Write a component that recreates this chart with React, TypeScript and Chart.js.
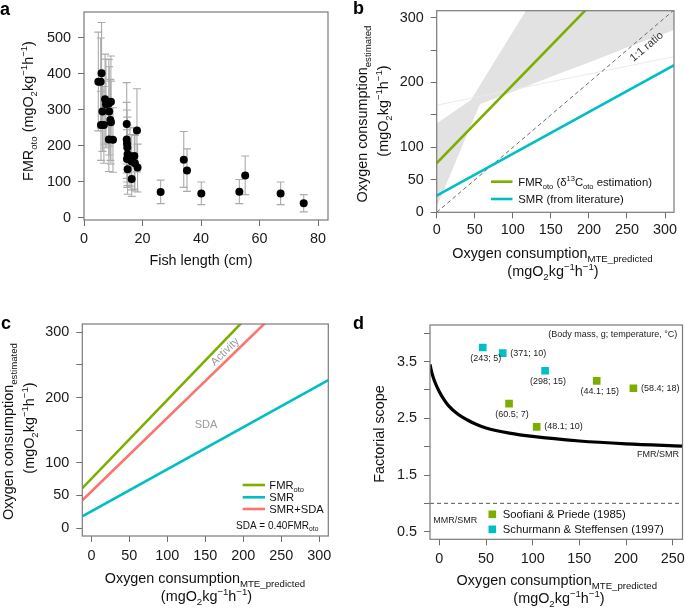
import React, { useEffect, useRef } from 'react';
import { Chart, registerables } from 'chart.js';

Chart.register(...registerables);

const FONT = "'Liberation Sans', Arial, Helvetica, sans-serif";
const GREEN = '#7CAE00';
const CYAN = '#00BFC4';
const RED = '#F8766D';

// ---------- Panel a : FMR vs fish length ----------
const fishLength = [4.9, 5.7, 6.0, 5.8, 6.8, 6.3, 7.2, 7.5, 8.5, 9.2, 8.6, 9.0, 9.2, 8.5, 9.9, 14.6, 14.6, 14.7, 14.8, 18.1, 14.9, 15.7, 17.2, 14.7, 16.3, 17.4, 18.3, 14.9, 16.3, 26.2, 34.1, 35.2, 40.1, 53.1, 55.1, 67.2, 75.1];
const fmrOto = [378, 378, 402, 258, 258, 296, 330, 316, 318, 323, 296, 272, 266, 218, 217, 261, 218, 207, 196, 243, 177, 172, 172, 164, 157, 152, 140, 135, 108, 72, 162, 132, 68, 73, 118, 68, 41];
const fmrLow = [242, 250, 262, 160, 152, 185, 205, 195, 200, 210, 175, 160, 150, 129, 127, 150, 125, 110, 100, 128, 90, 88, 80, 85, 78, 75, 72, 66, 60, 40, 85, 74, 37, 40, 65, 37, 17];
const fmrHigh = [516, 500, 543, 352, 365, 410, 455, 441, 440, 450, 420, 385, 380, 305, 306, 376, 321, 300, 280, 359, 258, 252, 250, 245, 232, 229, 205, 205, 172, 105, 240, 192, 100, 107, 172, 100, 65];
const aXTicks = [0, 20, 40, 60, 80];
const aYTicks = [0, 100, 200, 300, 400, 500];

// ---------- Panel b : estimated vs predicted ----------
const bandX = [0, 20, 45, 57, 80, 118, 150, 200, 250, 312];
const bandUpper = [137, 153, 173, 196, 240, 312, 312, 312, 312, 312];
const bandLower = [8, 64, 134, 167, 177, 194, 209, 231, 254, 281];
const faintX = [0, 312];
const faintY = [165, 240];
const bLineX = [0, 312];
const bFmrY = [75.7, 452];
const bSmrY = [25.8, 226.7];
const oneToOne = [0, 312];
const bTicks = [0, 50, 100, 150, 200, 250, 300];
const bYLabeled = [0, 50, 100, 200, 300];

// ---------- Panel c : energy partition ----------
const cLineX = [-12, 312];
const cFmrY = [61.2, 452.3];
const cSmrY = [18.1, 226.7];
const cSdaY = [42.6, 408];
const cTicks = [0, 50, 100, 150, 200, 250, 300];
const cYLabeled = [0, 50, 100, 200, 300];

// ---------- Panel d : factorial scope ----------
const ratioX = [-10, -8, -5, 0, 5, 10, 20, 30, 40, 50, 75, 100, 150, 200, 260];
const ratioY = [3.45, 3.3, 3.15, 2.97, 2.83, 2.72, 2.57, 2.47, 2.39, 2.33, 2.24, 2.18, 2.1, 2.05, 2.01];
const mmrLineX = [-10, 260];
const mmrLineY = [1, 1];
const soofX = [74.7, 104.3, 168.6, 207.9];
const soofY = [2.76, 2.35, 3.16, 3.03];
const soofLabels = ['(60.5; 7)', '(48.1; 10)', '(44.1; 15)', '(58.4; 18)'];
const soofPlace = ['below', 'right', 'below', 'right'];
const schuX = [46.5, 67.9, 113.3];
const schuY = [3.75, 3.65, 3.34];
const schuLabels = ['(243; 5)', '(371; 10)', '(298; 15)'];
const schuPlace = ['below', 'right', 'below'];
const dXTicks = [0, 50, 100, 150, 200, 250];
const dYTicks = [0.5, 1, 1.5, 2, 2.5, 3, 3.5, 4];
const dYLabeled = [0.5, 1.5, 2.5, 3.5];

// ---------- rich text helpers ----------
type Seg = { t: string; s?: 'sub' | 'sup' };

function segFont(size: number, s: Seg, weight = '') {
  const fs = s.s ? size * 0.67 : size;
  return `${weight} ${fs}px ${FONT}`;
}
function richWidth(ctx: CanvasRenderingContext2D, segs: Seg[], size: number) {
  let w = 0;
  for (const s of segs) {
    ctx.font = segFont(size, s);
    w += ctx.measureText(s.t).width;
  }
  return w;
}
function rich(ctx: CanvasRenderingContext2D, segs: Seg[], x: number, y: number, size: number, align: 'left' | 'center' | 'right' = 'left', angle = 0, color = '#111') {
  ctx.save();
  ctx.translate(x, y);
  ctx.rotate(angle);
  ctx.fillStyle = color;
  ctx.textBaseline = 'alphabetic';
  ctx.textAlign = 'left';
  const w = richWidth(ctx, segs, size);
  let cx = align === 'center' ? -w / 2 : align === 'right' ? -w : 0;
  for (const s of segs) {
    ctx.font = segFont(size, s);
    const dy = s.s === 'sub' ? size * 0.28 : s.s === 'sup' ? -size * 0.42 : 0;
    ctx.fillText(s.t, cx, dy);
    cx += ctx.measureText(s.t).width;
  }
  ctx.restore();
}
function letter(ctx: CanvasRenderingContext2D, t: string, x: number, y: number) {
  ctx.save();
  ctx.font = `bold 18px ${FONT}`;
  ctx.fillStyle = '#000';
  ctx.textAlign = 'left';
  ctx.textBaseline = 'alphabetic';
  ctx.fillText(t, x, y);
  ctx.restore();
}

const unitSegs: Seg[] = [{ t: '(mgO' }, { t: '2', s: 'sub' }, { t: 'kg' }, { t: '−1', s: 'sup' }, { t: 'h' }, { t: '−1', s: 'sup' }, { t: ')' }];
const xTitle1: Seg[] = [{ t: 'Oxygen consumption' }, { t: 'MTE_predicted', s: 'sub' }];
const yTitleEst: Seg[] = [{ t: 'Oxygen consumption' }, { t: 'estimated', s: 'sub' }];
const TS = 14.4;
const HALF_PI = Math.PI / 2;

// ---------- chart helpers ----------
function axis(min: number, max: number, ticks: number[], labeled: number[], size: number, pos: 'x' | 'y', pad: number) {
  return {
    type: 'linear',
    position: pos === 'x' ? 'bottom' : 'left',
    min,
    max,
    afterBuildTicks: (s: any) => {
      s.ticks = ticks.map((v) => ({ value: v }));
    },
    afterFit: (s: any) => {
      if (pos === 'x') s.height = size;
      else s.width = size;
      s.paddingLeft = 0;
      s.paddingRight = 0;
      s.paddingTop = 0;
      s.paddingBottom = 0;
    },
    grid: { drawOnChartArea: false, drawTicks: true, tickLength: 6, color: '#6e6e6e', tickColor: '#6e6e6e', lineWidth: 1 },
    border: { display: false },
    ticks: {
      autoSkip: false,
      maxRotation: 0,
      minRotation: 0,
      padding: pad,
      color: '#1a1a1a',
      font: { family: FONT, size: TS },
      callback: (v: number) => (labeled.indexOf(v) >= 0 ? String(v) : ''),
    },
  };
}

const boxPlugin = {
  id: 'box',
  afterDatasetsDraw(chart: any) {
    const { ctx, chartArea: a } = chart;
    ctx.save();
    ctx.strokeStyle = '#7a7a7a';
    ctx.lineWidth = 1.2;
    ctx.strokeRect(a.left, a.top, a.right - a.left, a.bottom - a.top);
    ctx.restore();
  },
};

function textPlugin(ox: number, oy: number, draw: (ctx: CanvasRenderingContext2D, chart: any) => void) {
  return {
    id: 'txt',
    afterDraw(chart: any) {
      const ctx = chart.ctx as CanvasRenderingContext2D;
      ctx.save();
      ctx.translate(-ox, -oy);
      draw(ctx, chart);
      ctx.restore();
    },
  };
}

function pts(xs: number[], ys: number[]) {
  return xs.map((x, i) => ({ x, y: ys[i] }));
}

function lineDs(xs: number[], ys: number[], color: string, width: number, extra: any = {}) {
  return {
    data: pts(xs, ys),
    showLine: true,
    borderColor: color,
    backgroundColor: color,
    borderWidth: width,
    pointRadius: 0,
    pointHoverRadius: 0,
    fill: false,
    ...extra,
  };
}

type Area = { L: number; T: number; R: number; B: number };

function baseConfig(ox: number, oy: number, w: number, h: number, area: Area, scales: any, datasets: any[], plugins: any[]) {
  return {
    type: 'scatter',
    data: { datasets },
    options: {
      animation: false,
      responsive: false,
      devicePixelRatio: 1,
      events: [],
      layout: { autoPadding: false, padding: { left: 0, top: area.T - oy, right: ox + w - area.R, bottom: 0 } },
      plugins: { legend: { display: false }, tooltip: { enabled: false } },
      scales,
    },
    plugins,
  };
}

// ---------- panel builders ----------
function buildA(ox: number, oy: number, w: number, h: number) {
  const area = { L: 84, T: 12, R: 328, B: 220 };
  const errPlugin = {
    id: 'err',
    beforeDatasetsDraw(chart: any) {
      const { ctx, scales } = chart;
      ctx.save();
      ctx.strokeStyle = '#ababab';
      ctx.lineWidth = 1.1;
      for (let i = 0; i < fishLength.length; i++) {
        const x = scales.x.getPixelForValue(fishLength[i]);
        const y1 = scales.y.getPixelForValue(fmrLow[i]);
        const y2 = scales.y.getPixelForValue(fmrHigh[i]);
        ctx.beginPath();
        ctx.moveTo(x, y1);
        ctx.lineTo(x, y2);
        ctx.moveTo(x - 4, y1);
        ctx.lineTo(x + 4, y1);
        ctx.moveTo(x - 4, y2);
        ctx.lineTo(x + 4, y2);
        ctx.stroke();
      }
      ctx.restore();
    },
  };
  const txt = textPlugin(ox, oy, (ctx) => {
    letter(ctx, 'a', 0, 15);
    rich(ctx, [{ t: 'FMR' }, { t: 'oto', s: 'sub' }, { t: ' ' }, ...unitSegs], 33, 111, TS, 'center', -HALF_PI);
    rich(ctx, [{ t: 'Fish length (cm)' }], 201, 265, TS, 'center');
  });
  return baseConfig(ox, oy, w, h, area, {
    x: axis(0, 83.4, aXTicks, aXTicks, oy + h - area.B, 'x', 4),
    y: axis(-5.6, 572, aYTicks, aYTicks, area.L - ox, 'y', 7),
  }, [
    { data: pts(fishLength, fmrOto), pointRadius: 4, pointHoverRadius: 4, backgroundColor: '#000', borderColor: '#000', borderWidth: 0 },
  ], [errPlugin, boxPlugin, txt]);
}

function buildB(ox: number, oy: number, w: number, h: number) {
  const area = { L: 436.7, T: 10.7, R: 674, B: 212.3 };
  const bandPlugin = {
    id: 'band',
    beforeDatasetsDraw(chart: any) {
      const { ctx, chartArea: a, scales } = chart;
      const sx = scales.x, sy = scales.y;
      ctx.save();
      ctx.beginPath();
      ctx.rect(a.left, a.top, a.right - a.left, a.bottom - a.top);
      ctx.clip();
      ctx.beginPath();
      for (let i = 0; i < bandX.length; i++) {
        const px = sx.getPixelForValue(bandX[i]);
        const py = sy.getPixelForValue(bandUpper[i]);
        if (i === 0) ctx.moveTo(px, py);
        else ctx.lineTo(px, py);
      }
      for (let i = bandX.length - 1; i >= 0; i--) {
        ctx.lineTo(sx.getPixelForValue(bandX[i]), sy.getPixelForValue(bandLower[i]));
      }
      ctx.closePath();
      ctx.fillStyle = '#e2e2e2';
      ctx.fill();
      ctx.restore();
    },
  };
  const txt = textPlugin(ox, oy, (ctx, chart) => {
    letter(ctx, 'b', 353, 14);
    rich(ctx, yTitleEst, 367, 114, TS, 'center', -HALF_PI);
    rich(ctx, unitSegs, 388, 111, TS, 'center', -HALF_PI);
    rich(ctx, xTitle1, 552.5, 258.3, TS, 'center');
    rich(ctx, unitSegs, 553, 276, TS, 'center');
    // legend
    const lg = [
      { c: GREEN, y: 181.7, segs: [{ t: 'FMR' }, { t: 'oto', s: 'sub' }, { t: ' (δ' }, { t: '13', s: 'sup' }, { t: 'C' }, { t: 'oto', s: 'sub' }, { t: ' estimation)' }] as Seg[] },
      { c: CYAN, y: 199, segs: [{ t: 'SMR (from literature)' }] as Seg[] },
    ];
    for (const it of lg) {
      ctx.save();
      ctx.strokeStyle = it.c;
      ctx.lineWidth = 2.6;
      ctx.beginPath();
      ctx.moveTo(491, it.y);
      ctx.lineTo(512.5, it.y);
      ctx.stroke();
      ctx.restore();
      rich(ctx, it.segs, 518.3, it.y + 4, 11.3, 'left');
    }
    // 1:1 ratio label
    const sx = chart.scales.x, sy = chart.scales.y;
    const p0x = sx.getPixelForValue(0), p0y = sy.getPixelForValue(0);
    const p1x = sx.getPixelForValue(300), p1y = sy.getPixelForValue(300);
    const ang = Math.atan2(p1y - p0y, p1x - p0x);
    const cx = sx.getPixelForValue(276) + ox, cy = sy.getPixelForValue(255) + oy;
    ctx.save();
    ctx.translate(cx, cy);
    ctx.rotate(ang);
    ctx.font = `11px ${FONT}`;
    ctx.fillStyle = '#333';
    ctx.textAlign = 'center';
    ctx.textBaseline = 'middle';
    ctx.fillText('1:1 ratio', 0, 0);
    ctx.restore();
  });
  return baseConfig(ox, oy, w, h, area, {
    x: axis(0, 311.8, bTicks, bTicks, oy + h - area.B, 'x', 3),
    y: axis(0, 310.7, bTicks, bYLabeled, area.L - ox, 'y', 7),
  }, [
    lineDs(bLineX, bFmrY, GREEN, 2.6),
    lineDs(bLineX, bSmrY, CYAN, 2.6),
    lineDs(oneToOne, oneToOne, '#6a6a6a', 1, { borderDash: [4, 3] }),
    lineDs(faintX, faintY, '#ebebeb', 1),
  ], [bandPlugin, boxPlugin, txt]);
}

function buildC(ox: number, oy: number, w: number, h: number) {
  const area = { L: 82.3, T: 324, R: 328.3, B: 536 };
  const txt = textPlugin(ox, oy, (ctx, chart) => {
    letter(ctx, 'c', 1, 329);
    rich(ctx, yTitleEst, 12.6, 431.5, TS, 'center', -HALF_PI);
    rich(ctx, unitSegs, 33.6, 428, TS, 'center', -HALF_PI);
    rich(ctx, xTitle1, 205, 582.7, TS, 'center');
    rich(ctx, unitSegs, 206.5, 601, TS, 'center');
    const lg = [
      { c: GREEN, y: 485, segs: [{ t: 'FMR' }, { t: 'oto', s: 'sub' }] as Seg[] },
      { c: CYAN, y: 497.3, segs: [{ t: 'SMR' }] as Seg[] },
      { c: RED, y: 509, segs: [{ t: 'SMR+SDA' }] as Seg[] },
    ];
    for (const it of lg) {
      ctx.save();
      ctx.strokeStyle = it.c;
      ctx.lineWidth = 2.6;
      ctx.beginPath();
      ctx.moveTo(242.7, it.y);
      ctx.lineTo(265, it.y);
      ctx.stroke();
      ctx.restore();
      rich(ctx, it.segs, 269.3, it.y + 4, 11.2, 'left');
    }
    rich(ctx, [{ t: 'SDA = 0.40FMR' }, { t: 'oto', s: 'sub' }], 236, 528.6, 10, 'left');
    const sx = chart.scales.x, sy = chart.scales.y;
    const p0x = sx.getPixelForValue(cLineX[0]), p0y = sy.getPixelForValue(cSdaY[0]);
    const p1x = sx.getPixelForValue(cLineX[1]), p1y = sy.getPixelForValue(cSdaY[1]);
    const ang = Math.atan2(p1y - p0y, p1x - p0x);
    ctx.save();
    ctx.translate(sx.getPixelForValue(176) + ox, sy.getPixelForValue(270) + oy);
    ctx.rotate(ang);
    ctx.font = `11px ${FONT}`;
    ctx.fillStyle = '#9a9a9a';
    ctx.textAlign = 'center';
    ctx.textBaseline = 'middle';
    ctx.fillText('Activity', 0, 0);
    ctx.restore();
    ctx.save();
    ctx.font = `11px ${FONT}`;
    ctx.fillStyle = '#9a9a9a';
    ctx.textAlign = 'center';
    ctx.textBaseline = 'middle';
    ctx.fillText('SDA', sx.getPixelForValue(151) + ox, sy.getPixelForValue(158.7) + oy);
    ctx.restore();
  });
  return baseConfig(ox, oy, w, h, area, {
    x: axis(-12, 312, cTicks, cTicks, oy + h - area.B, 'x', 5),
    y: axis(-12, 312.6, cTicks, cYLabeled, area.L - ox, 'y', 7),
  }, [
    lineDs(cLineX, cFmrY, GREEN, 2.6),
    lineDs(cLineX, cSdaY, RED, 2.6),
    lineDs(cLineX, cSmrY, CYAN, 2.6),
  ], [boxPlugin, txt]);
}

function buildD(ox: number, oy: number, w: number, h: number) {
  const area = { L: 430, T: 325, R: 682.5, B: 539.3 };
  const txt = textPlugin(ox, oy, (ctx, chart) => {
    letter(ctx, 'd', 353, 329);
    rich(ctx, [{ t: 'Factorial scope' }], 384, 434, TS, 'center', -HALF_PI);
    rich(ctx, xTitle1, 556.8, 585, TS, 'center');
    rich(ctx, unitSegs, 559, 602.7, TS, 'center');
    const sx = chart.scales.x, sy = chart.scales.y;
    ctx.save();
    ctx.font = `9px ${FONT}`;
    ctx.fillStyle = '#222';
    ctx.textBaseline = 'middle';
    const lab = (xs: number[], ys: number[], labels: string[], place: string[]) => {
      for (let i = 0; i < xs.length; i++) {
        const px = sx.getPixelForValue(xs[i]) + ox;
        const py = sy.getPixelForValue(ys[i]) + oy;
        if (place[i] === 'below') {
          ctx.textAlign = 'center';
          ctx.fillText(labels[i], px + 3, py + 10.8);
        } else {
          ctx.textAlign = 'left';
          ctx.fillText(labels[i], px + 7.5, py);
        }
      }
    };
    lab(soofX, soofY, soofLabels, soofPlace);
    lab(schuX, schuY, schuLabels, schuPlace);
    ctx.textAlign = 'right';
    ctx.fillText('FMR/SMR', 679, 455);
    ctx.fillText('(Body mass, g; temperature, °C)', 677.3, 335);
    ctx.textAlign = 'left';
    ctx.fillText('MMR/SMR', 433.3, 521);
    ctx.restore();
    // legend
    const lg = [
      { c: GREEN, y: 514.3, t: 'Soofiani & Priede (1985)' },
      { c: CYAN, y: 529.3, t: 'Schurmann & Steffensen (1997)' },
    ];
    for (const it of lg) {
      ctx.save();
      ctx.fillStyle = it.c;
      ctx.fillRect(492.3 - 3.8, it.y - 3.8, 7.6, 7.6);
      ctx.restore();
      rich(ctx, [{ t: it.t }], 502.7, it.y + 4, 11.3, 'left');
    }
  });
  return baseConfig(ox, oy, w, h, area, {
    x: axis(-10, 260.5, dXTicks, dXTicks, oy + h - area.B, 'x', 5),
    y: axis(0.366, 4.146, dYTicks, dYLabeled, area.L - ox, 'y', 7),
  }, [
    { data: pts(soofX, soofY), pointStyle: 'rect', pointRadius: 5.4, pointHoverRadius: 5.4, backgroundColor: GREEN, borderColor: GREEN, borderWidth: 0 },
    { data: pts(schuX, schuY), pointStyle: 'rect', pointRadius: 5.4, pointHoverRadius: 5.4, backgroundColor: CYAN, borderColor: CYAN, borderWidth: 0 },
    lineDs(ratioX, ratioY, '#000', 3.2, { cubicInterpolationMode: 'monotone' }),
    lineDs(mmrLineX, mmrLineY, '#555', 1, { borderDash: [4, 3] }),
  ], [boxPlugin, txt]);
}

function Panel({ left, top, width, height, build }: { left: number; top: number; width: number; height: number; build: (ox: number, oy: number, w: number, h: number) => any }) {
  const ref = useRef<HTMLCanvasElement>(null);
  useEffect(() => {
    const chart = new Chart(ref.current as HTMLCanvasElement, build(left, top, width, height));
    return () => chart.destroy();
  }, []);
  return <canvas ref={ref} width={width} height={height} style={{ position: 'absolute', left, top, width, height }} />;
}

export default function App() {
  return (
    <div style={{ position: 'absolute', left: 0, top: 0, width: 685, height: 610, background: '#fff', overflow: 'hidden' }}>
      <Panel left={0} top={0} width={342} height={300} build={buildA} />
      <Panel left={342} top={0} width={343} height={300} build={buildB} />
      <Panel left={0} top={300} width={342} height={310} build={buildC} />
      <Panel left={342} top={300} width={343} height={310} build={buildD} />
    </div>
  );
}
